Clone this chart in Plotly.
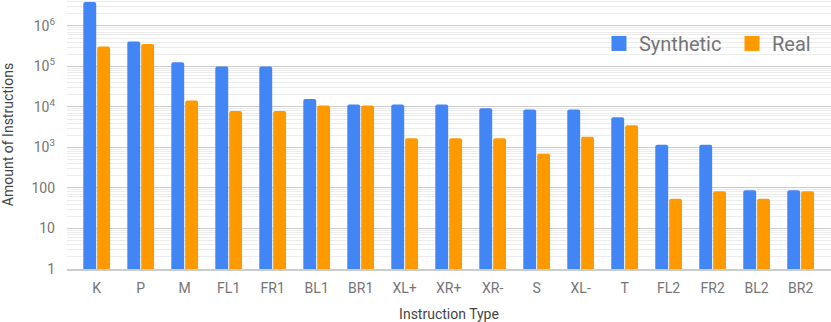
import plotly.graph_objects as go

categories = ["K", "P", "M", "FL1", "FR1", "BL1", "BR1", "XL+", "XR+", "XR-", "S", "XL-", "T", "FL2", "FR2", "BL2", "BR2"]
synthetic = [3900000, 410000, 126000, 100000, 100000, 15800, 11500, 11500, 11500, 9300, 8700, 8700, 5600, 1170, 1170, 88, 88]
real = [310000, 360000, 14500, 8000, 8000, 10800, 10800, 1700, 1700, 1700, 700, 1850, 3550, 54, 83, 54, 83]

y_tickvals = [1, 10, 100, 1000, 10000, 100000, 1000000]
y_ticktext = ["1", "10", "100", "10<sup>3</sup>", "10<sup>4</sup>", "10<sup>5</sup>", "10<sup>6</sup>"]

BLUE = "#4285F4"
ORANGE = "#FF9900"
FONT = "Roboto"

fig = go.Figure()
fig.add_trace(go.Bar(name="Synthetic", x=categories, y=synthetic, marker=dict(color=BLUE, cornerradius=2, line=dict(width=0)), showlegend=False))
fig.add_trace(go.Bar(name="Real", x=categories, y=real, marker=dict(color=ORANGE, cornerradius=2, line=dict(width=0)), showlegend=False))
# legend entries with larger square swatches
fig.add_trace(go.Scatter(name="Synthetic", x=[None], y=[None], mode="markers", legend="legend",
                         marker=dict(symbol="square", size=15, color=BLUE)))
fig.add_trace(go.Scatter(name="Real", x=[None], y=[None], mode="markers", legend="legend2",
                         marker=dict(symbol="square", size=15, color=ORANGE)))

legend_common = dict(orientation="h", yanchor="top", y=0.911, xanchor="left",
                     font=dict(size=20, color="#757575"), bgcolor="rgba(0,0,0,0)", itemwidth=30)

fig.update_layout(
    width=831, height=322,
    margin=dict(l=67, r=0, t=0, b=53, autoexpand=False),
    paper_bgcolor="white", plot_bgcolor="white",
    font=dict(family=FONT, color="#757575", size=14),
    barmode="group", bargap=0.37, bargroupgap=0.07,
    legend=dict(x=0.6963, **legend_common),
    legend2=dict(x=0.8704, **legend_common),
)
fig.update_xaxes(
    type="category", range=[-0.675, 16.69], automargin=False,
    showline=True, linecolor="#cccccc", linewidth=2,
    showgrid=False, ticks="", ticklabelstandoff=5,
    tickfont=dict(size=14, color="#757575"),
    title=dict(text="Instruction Type", font=dict(size=14, color="#444444")),
)
fig.update_yaxes(
    type="log", range=[0, 6.64], automargin=False,
    tickmode="array", tickvals=y_tickvals, ticktext=y_ticktext,
    showgrid=True, gridcolor="#cccccc", gridwidth=1,
    minor=dict(dtick="D1", showgrid=True, gridcolor="#ececec", gridwidth=1),
    zeroline=False, ticks="", ticklabelstandoff=11,
    tickfont=dict(size=14, color="#757575"),
    title=dict(text="Amount of Instructions", font=dict(size=14, color="#444444")),
)

fig.write_html("out.html", config={"displayModeBar": False},
               post_script="document.body.style.margin='0';document.body.style.overflow='hidden';")
